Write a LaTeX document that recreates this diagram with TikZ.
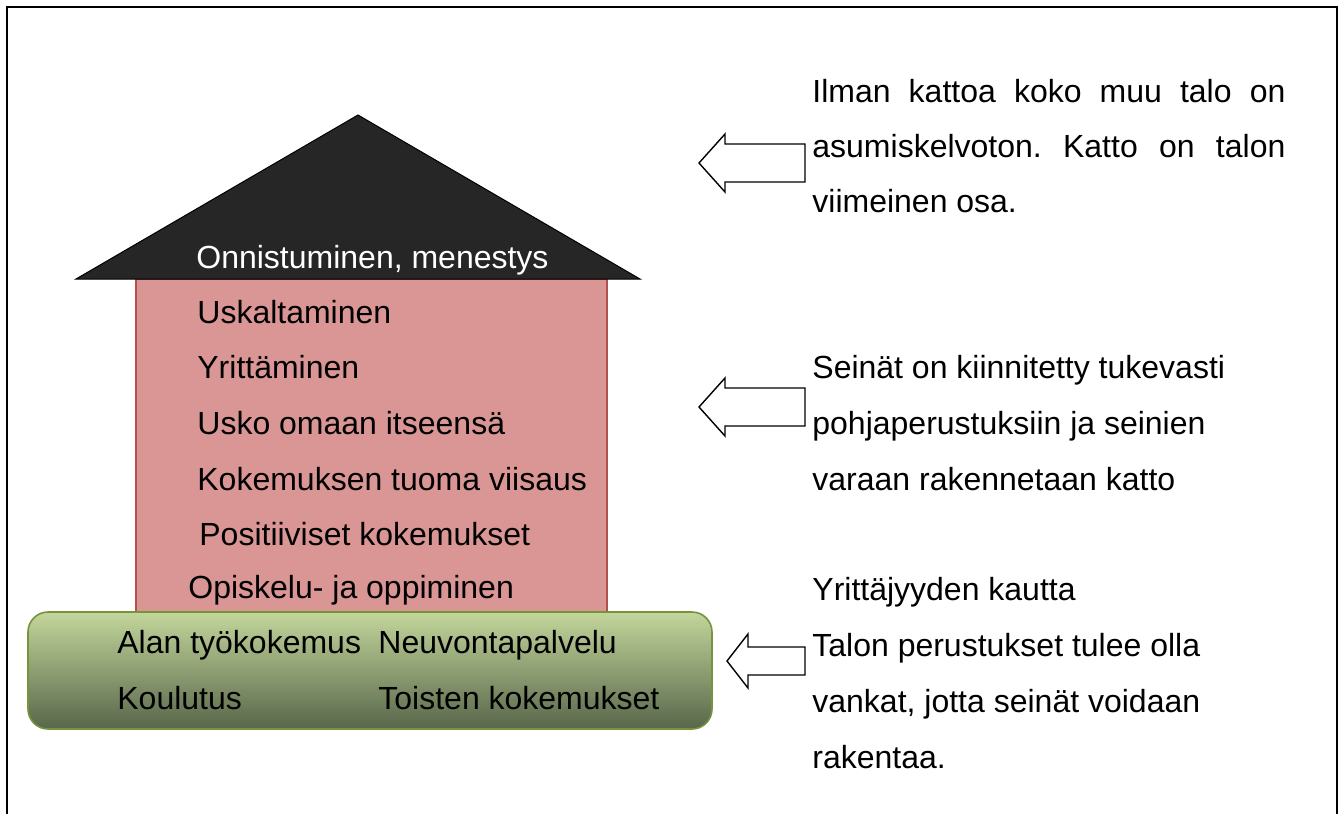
\documentclass[tikz,border=0pt]{standalone}
\usepackage{fontspec}
\setmainfont{Liberation Sans}
\frenchspacing
\definecolor{roofgray}{HTML}{262626}
\definecolor{wallred}{HTML}{D99694}
\definecolor{walledge}{HTML}{B3504D}
\definecolor{baselight}{HTML}{C3D69B}
\definecolor{basedark}{HTML}{58664A}
\definecolor{baseedge}{HTML}{77933C}
\tikzset{
  txt/.style = {anchor=base west, inner sep=0pt, font=\fontsize{16pt}{19pt}\selectfont},
  hollow/.style = {draw=black, fill=white, line width=0.7pt, line join=miter},
}
\newcommand{\fullline}[1]{\makebox[236.5pt][s]{#1}}

\begin{document}
\begin{tikzpicture}[x=0.5pt, y=-0.5pt]
\useasboundingbox (0,0) rectangle (1344,814);
% frame, open at the bottom
\draw[line width=1.1pt] (7,814) -- (7,7) -- (1337,7) -- (1337,814);

% the house
\draw[fill=wallred, draw=walledge, line width=0.7pt] (136,279) rectangle (607,630);
\draw[fill=roofgray, draw=black, line width=0.5pt] (76,279) -- (358,115) -- (640,279) -- cycle;
\draw[draw=baseedge, line width=0.8pt, rounded corners=10pt, top color=baselight, bottom color=basedark] (28,612) rectangle (712,729);

\node[txt, white] (top) at (196,268) {Onnistuminen, menestys};
\node[txt] (w1) at (197,323) {Uskaltaminen};
\node[txt] (w2) at (197,378) {Yrittäminen};
\node[txt] (w3) at (197,434) {Usko omaan itseensä};
\node[txt] (w4) at (197,490) {Kokemuksen tuoma viisaus};
\node[txt] (w5) at (199,545) {Positiiviset kokemukset};
\node[txt] (w6) at (188,598) {Opiskelu- ja oppiminen};
\node[txt] (b1) at (117,653) {Alan työkokemus};
\node[txt] (b2) at (378,653) {Neuvontapalvelu};
\node[txt] (b3) at (117,709) {Koulutus};
\node[txt] (b4) at (378,709) {Toisten kokemukset};

% hollow arrows
\draw[hollow] (699,163) -- (725,134) -- (725,144) -- (805,144) -- (805,182) -- (725,182) -- (725,192) -- cycle;
\draw[hollow] (699,407) -- (725,378) -- (725,388) -- (805,388) -- (805,426) -- (725,426) -- (725,436) -- cycle;
\draw[hollow] (727,661) -- (748,634) -- (748,647) -- (805,647) -- (805,675) -- (748,675) -- (748,688) -- cycle;

% explanations
\node[txt] (r1) at (812,102) {\fullline{Ilman kattoa koko muu talo on}};
\node[txt] (r2) at (812,157) {\fullline{asumiskelvoton. Katto on talon}};
\node[txt] (r3) at (812,212) {viimeinen osa.};
\node[txt] (s1) at (812,378) {Seinät on kiinnitetty tukevasti};
\node[txt] (s2) at (812,434) {pohjaperustuksiin ja seinien};
\node[txt] (s3) at (812,490) {varaan rakennetaan katto};
\node[txt] (p1) at (812,600) {Yrittäjyyden kautta};
\node[txt] (p2) at (812,656) {Talon perustukset tulee olla};
\node[txt] (p3) at (812,712) {vankat, jotta seinät voidaan};
\node[txt] (p4) at (812,768) {rakentaa.};
\end{tikzpicture}
\end{document}
